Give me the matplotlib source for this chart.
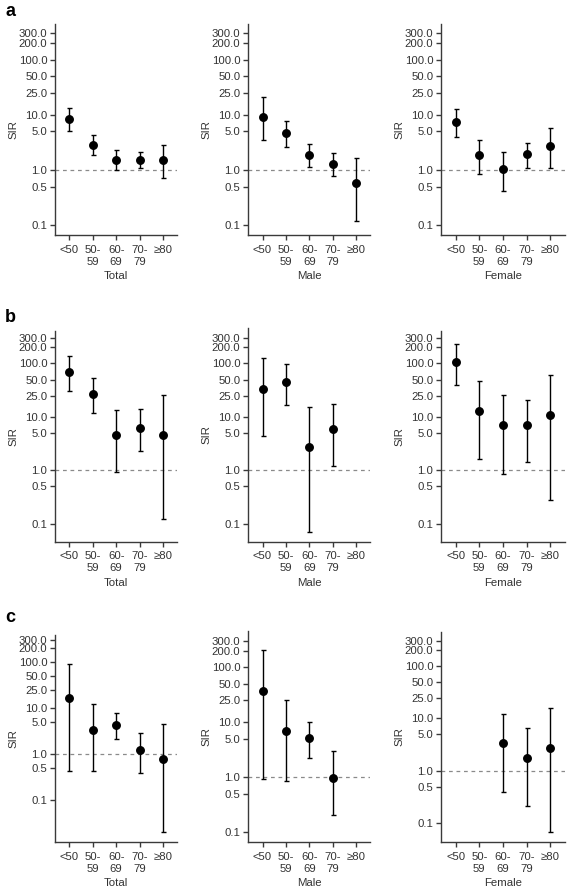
import numpy as np
import matplotlib
matplotlib.use("Agg")
import matplotlib.pyplot as plt

plt.rcParams['font.family'] = ['Liberation Sans', 'DejaVu Sans']
plt.rcParams['font.size'] = 8.2

# Age groups and groups
age_labels = ['<50', '50-\n59', '60-\n69', '70-\n79', '\u226580']
groups = ['Total', 'Male', 'Female']
nan = np.nan

# SIR point estimates and 95% CI, panel a
a_sir = {'Total': [8.4, 2.9, 1.55, 1.55, 1.55],
         'Male': [9.3, 4.6, 1.9, 1.3, 0.58],
         'Female': [7.4, 1.9, 1.04, 1.95, 2.75]}
a_lo = {'Total': [5.1, 1.9, 1.0, 1.07, 0.72],
        'Male': [3.5, 2.6, 1.15, 0.77, 0.12],
        'Female': [4.0, 0.86, 0.42, 1.11, 1.11]}
a_hi = {'Total': [13.3, 4.4, 2.3, 2.1, 2.8],
        'Male': [20.7, 7.8, 2.95, 2.03, 1.67],
        'Female': [12.9, 3.5, 2.15, 3.1, 5.8]}

# panel b
b_sir = {'Total': [69.5, 26.8, 4.5, 6.3, 4.5],
         'Male': [33.7, 45.0, 2.75, 5.9, nan],
         'Female': [107.0, 13.1, 7.0, 7.0, 10.9]}
b_lo = {'Total': [30.0, 11.7, 0.94, 2.33, 0.12],
        'Male': [4.3, 16.7, 0.07, 1.19, nan],
        'Female': [40.0, 1.6, 0.85, 1.45, 0.28]}
b_hi = {'Total': [138.0, 52.8, 13.3, 13.9, 25.7],
        'Male': [126.0, 96.6, 15.1, 17.2, nan],
        'Female': [234.0, 47.0, 25.4, 20.4, 61.0]}

# panel c
c_sir = {'Total': [16.7, 3.4, 4.3, 1.2, 0.79],
         'Male': [36.8, 6.9, 5.1, 0.97, nan],
         'Female': [nan, nan, 3.4, 1.77, 2.78]}
c_lo = {'Total': [0.43, 0.43, 2.12, 0.39, 0.02],
        'Male': [0.93, 0.85, 2.22, 0.2, nan],
        'Female': [nan, nan, 0.40, 0.22, 0.069]}
c_hi = {'Total': [91.8, 12.2, 7.9, 2.86, 4.5],
        'Male': [206.0, 24.9, 10.0, 2.98, nan],
        'Female': [nan, nan, 12.3, 6.6, 15.8]}

ytick_vals = [0.1, 0.5, 1.0, 5.0, 10.0, 25.0, 50.0, 100.0, 200.0, 300.0]

W, H = 573, 890
fig = plt.figure(figsize=(W / 100, H / 100), dpi=100)

text_col = '#333333'
axis_col = '#3a3a3a'

# layout in pixels: (left, right) per column, (top, bottom, ylim) per panel
cols = [(55, 177), (248, 370.5), (441, 564.5)]
rows = [
    ('a', [a_sir, a_lo, a_hi], 235,
     [(24.3, (0.0667, 436)), (24.3, (0.0667, 436)), (24.3, (0.0667, 436))]),
    ('b', [b_sir, b_lo, b_hi], 541.7,
     [(330.7, (0.046, 411)), (328.3, (0.046, 455)), (330.7, (0.046, 411))]),
    ('c', [c_sir, c_lo, c_hi], 842,
     [(635, (0.0122, 386)), (631, (0.0655, 456)), (631.7, (0.0444, 450))]),
]
letter_y = {'a': 12, 'b': 317, 'c': 618}

for letter, (sir, lo, hi), bottom, panels in rows:
    for (left, right), g, (top, ylim) in zip(cols, groups, panels):
        ax = fig.add_axes([left / W, 1 - bottom / H, (right - left) / W, (bottom - top) / H])
        x = np.arange(len(age_labels))
        est = np.array(sir[g])
        err = np.vstack([est - np.array(lo[g]), np.array(hi[g]) - est])
        ax.axhline(1.0, color='#8a8a8a', lw=0.9, ls=(0, (3, 3)), zorder=1)
        ax.errorbar(x, est, yerr=err, fmt='o', color='black', ms=5.4,
                    elinewidth=1.0, capsize=1.8, capthick=1.0, zorder=3)
        ax.set_yscale('log')
        ax.set_ylim(*ylim)
        ax.set_xlim(-0.62, 4.6)
        ax.set_yticks(ytick_vals)
        ax.set_yticklabels([f'{v:.1f}' for v in ytick_vals])
        ax.yaxis.set_minor_locator(matplotlib.ticker.NullLocator())
        ax.set_xticks(x)
        ax.set_xticklabels(age_labels, linespacing=1.25)
        ax.set_xlabel(g, color=text_col, labelpad=3)
        ax.set_ylabel('SIR', color=text_col)
        ax.yaxis.set_label_coords(-36.5 / (right - left), 0.5)
        for s in ['top', 'right']:
            ax.spines[s].set_visible(False)
        for s in ['left', 'bottom']:
            ax.spines[s].set_color(axis_col)
            ax.spines[s].set_linewidth(1.0)
        ax.tick_params(colors=axis_col, labelcolor=text_col, length=3.5,
                       width=1.0, pad=2)
        ax.tick_params(axis='x', pad=3.5)
    fig.text(5 / W, 1 - letter_y[letter] / H, letter, fontsize=13,
             fontweight='bold', va='center', ha='left', color='black')

fig.savefig('out.png', dpi=100, facecolor='white')
